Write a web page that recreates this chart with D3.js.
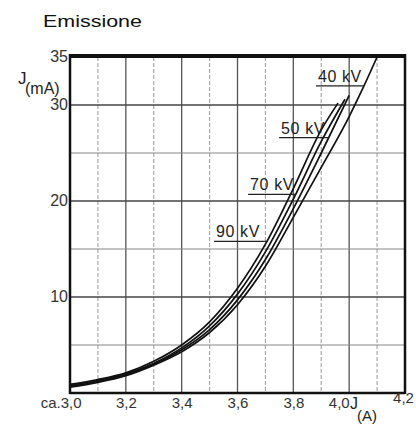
<!DOCTYPE html>
<html>
<head>
<meta charset="utf-8">
<script src="https://cdn.jsdelivr.net/npm/d3@7"></script>
<style>
  body { margin: 0; background: #fff; }
  svg { display: block; font-family: "Liberation Sans", Arial, sans-serif; }
</style>
</head>
<body>
<div id="chart"></div>
<script>
// filament current (A) and emission current (mA)
const seriesNames = ["40 kV", "50 kV", "70 kV", "90 kV"];
const current40 = [3.0, 3.1, 3.2, 3.3, 3.4, 3.5, 3.6, 3.7, 3.8, 3.9, 4.0, 4.05, 4.1];
const emission40 = [0.6, 1.1, 1.8, 2.9, 4.3, 6.3, 9.2, 13.2, 18.3, 23.5, 28.8, 31.8, 35];
const current50 = [3.0, 3.1, 3.2, 3.3, 3.4, 3.5, 3.6, 3.7, 3.8, 3.9, 4.0];
const emission50 = [0.7, 1.2, 1.9, 3.0, 4.5, 6.6, 9.7, 13.9, 19.2, 25.0, 31.0];
const current70 = [3.0, 3.1, 3.2, 3.3, 3.4, 3.5, 3.6, 3.7, 3.8, 3.9, 3.985];
const emission70 = [0.8, 1.3, 2.0, 3.1, 4.7, 7.0, 10.3, 14.7, 20.2, 26.2, 30.6];
const current90 = [3.0, 3.1, 3.2, 3.3, 3.4, 3.5, 3.6, 3.7, 3.8, 3.9, 3.96];
const emission90 = [0.9, 1.4, 2.1, 3.3, 5.0, 7.4, 10.9, 15.5, 21.3, 27.4, 30.2];

const xTicks = [3.0, 3.2, 3.4, 3.6, 3.8, 4.0, 4.2];
const xTickLabels = ["ca.3,0", "3,2", "3,4", "3,6", "3,8", "4,0", "4,2"];
const yTicks = [10, 20, 30, 35];

// where each label's underline sits (emission value) and where its text starts (current)
const labelAtEmission = [32.0, 26.6, 20.7, 15.8];
const labelFromCurrent = [3.881, 3.749, 3.638, 3.516];

const width = 416, height = 425;
const margin = { top: 57, right: 11, bottom: 32, left: 70 };

const svg = d3.select("#chart").append("svg")
  .attr("width", width)
  .attr("height", height);

const x = d3.scaleLinear().domain([3.0, 4.2]).range([margin.left, width - margin.right]);
const y = d3.scaleLinear().domain([0, 35]).range([height - margin.bottom, margin.top]);

// grid
const gridX = d3.range(3.1, 4.2, 0.1).map(v => +v.toFixed(1));
svg.append("g")
  .selectAll("line")
  .data(gridX)
  .join("line")
  .attr("x1", d => x(d)).attr("x2", d => x(d))
  .attr("y1", y(35)).attr("y2", y(0))
  .attr("stroke", (d, i) => i % 2 ? "#555" : "#aaa")
  .attr("stroke-width", (d, i) => i % 2 ? 1.3 : 1.2)
  .attr("stroke-dasharray", (d, i) => i % 2 ? null : "4,2");

const gridY = [5, 10, 15, 20, 25, 30];
svg.append("g")
  .selectAll("line")
  .data(gridY)
  .join("line")
  .attr("x1", x(3.0)).attr("x2", x(4.2))
  .attr("y1", d => y(d)).attr("y2", d => y(d))
  .attr("stroke", d => d % 10 ? "#888" : "#444")
  .attr("stroke-width", d => d % 10 ? 1.1 : 1.4);

// frame
svg.append("line").attr("x1", x(3.0)).attr("x2", x(4.2)).attr("y1", y(35) - 1).attr("y2", y(35) - 1)
  .attr("stroke", "#111").attr("stroke-width", 4);
svg.append("line").attr("x1", x(3.0)).attr("x2", x(4.2)).attr("y1", y(0)).attr("y2", y(0))
  .attr("stroke", "#111").attr("stroke-width", 2.5);
svg.append("line").attr("x1", x(3.0)).attr("x2", x(3.0)).attr("y1", y(35) - 3).attr("y2", y(0) + 1)
  .attr("stroke", "#111").attr("stroke-width", 2.5);
svg.append("line").attr("x1", x(4.2)).attr("x2", x(4.2)).attr("y1", y(35) - 3).attr("y2", y(0) + 1)
  .attr("stroke", "#111").attr("stroke-width", 2.5);

// curves
const series = [
  d3.zip(current40, emission40),
  d3.zip(current50, emission50),
  d3.zip(current70, emission70),
  d3.zip(current90, emission90)
];

const line = d3.line()
  .x(d => x(d[0]))
  .y(d => y(d[1]))
  .curve(d3.curveMonotoneX);

svg.append("g")
  .selectAll("path")
  .data(series)
  .join("path")
  .attr("fill", "none")
  .attr("stroke", "#111")
  .attr("stroke-width", 1.7)
  .attr("d", line);

// current at a given emission along a series (linear between read points)
function currentAt(pts, j) {
  for (let i = 1; i < pts.length; i++) {
    if (pts[i][1] >= j) {
      const [a0, j0] = pts[i - 1], [a1, j1] = pts[i];
      return a0 + (a1 - a0) * (j - j0) / (j1 - j0);
    }
  }
  return pts[pts.length - 1][0];
}

// curve labels with underline leaders
const labels = svg.append("g");
seriesNames.forEach((name, i) => {
  const yy = y(labelAtEmission[i]);
  const x0 = x(labelFromCurrent[i]);
  const x1 = x(currentAt(series[i], labelAtEmission[i]));
  labels.append("text")
    .attr("x", x0 + 2)
    .attr("y", yy - 4)
    .attr("font-size", 16)
    .attr("letter-spacing", 0.6)
    .attr("fill", "#222")
    .text(name);
  labels.append("line")
    .attr("x1", x0).attr("x2", x1)
    .attr("y1", yy).attr("y2", yy)
    .attr("stroke", "#222").attr("stroke-width", 1.3);
});

// y axis
const yAxis = svg.append("g")
  .attr("transform", `translate(${x(3.0) - 2},0)`)
  .call(d3.axisLeft(y).tickValues(yTicks).tickSize(0).tickPadding(0));
yAxis.select(".domain").remove();
yAxis.selectAll("text")
  .attr("font-size", 16)
  .attr("font-family", "Liberation Sans, Arial, sans-serif")
  .attr("fill", "#333")
  .attr("dy", "0.3em");

// x axis
const xAxis = svg.append("g")
  .attr("transform", `translate(0,${y(0)})`)
  .call(d3.axisBottom(x).tickValues(xTicks).tickSize(0).tickPadding(0)
    .tickFormat((d, i) => xTickLabels[i]));
xAxis.select(".domain").remove();
xAxis.selectAll("text")
  .attr("font-size", 15)
  .attr("font-family", "Liberation Sans, Arial, sans-serif")
  .attr("fill", "#333")
  .attr("dy", 15)
  .each(function(d, i) {
    const t = d3.select(this);
    if (i === 0) t.attr("text-anchor", "end").attr("dx", 11);
    if (i === 5) t.attr("text-anchor", "end").attr("dx", 0);
    if (i === 6) t.attr("dx", -2).attr("dy", 10);
  });

// axis titles
svg.append("text").attr("x", 18).attr("y", 84).attr("font-size", 17).attr("fill", "#222").text("J");
svg.append("text").attr("x", 25).attr("y", 94).attr("font-size", 16).attr("fill", "#222").text("(mA)");
svg.append("text").attr("x", 350).attr("y", 409).attr("font-size", 16).attr("fill", "#222").text("J");
svg.append("text").attr("x", 357).attr("y", 421).attr("font-size", 15).attr("fill", "#222").text("(A)");

// title
svg.append("text")
  .attr("x", 43).attr("y", 27)
  .attr("font-size", 17)
  .attr("textLength", 99)
  .attr("lengthAdjust", "spacingAndGlyphs")
  .attr("fill", "#111")
  .text("Emissione");
</script>
</body>
</html>
